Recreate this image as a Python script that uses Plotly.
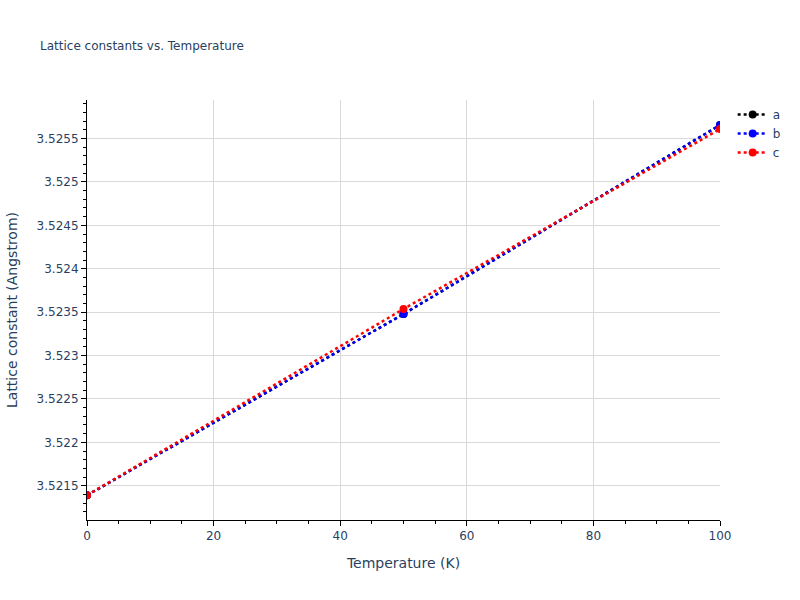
import plotly.graph_objects as go

temperature = [0, 50, 100]
lat_a = [3.52139, 3.523478, 3.525655]
lat_b = [3.52139, 3.523478, 3.525655]
lat_c = [3.52139, 3.523536, 3.525609]

series = [("a", lat_a, "black"), ("b", lat_b, "blue"), ("c", lat_c, "red")]

fig = go.Figure()
for name, vals, col in series:
    fig.add_trace(go.Scatter(
        x=temperature, y=vals, name=name, mode="lines+markers",
        line=dict(color=col, dash="dot", width=2.5),
        marker=dict(color=col, size=8),
    ))

axis_common = dict(
    showline=True, linecolor="black", linewidth=1,
    ticks="outside", tickcolor="black", ticklen=5,
    showgrid=True, gridcolor="#d9d9d9", zeroline=False,
    tickfont=dict(size=12),
    minor=dict(ticks="outside", ticklen=3, tickcolor="black", showgrid=False),
)

fig.update_layout(
    width=800, height=600,
    title=dict(text="Lattice constants vs. Temperature", font=dict(size=12), x=0.05),
    plot_bgcolor="white", paper_bgcolor="white",
    font=dict(family="DejaVu Sans, Verdana, sans-serif", color="#2a3f5f"),
    xaxis=dict(title=dict(text="Temperature (K)", font=dict(size=14)),
               range=[0, 100], dtick=20, minor_dtick=5, **axis_common),
    yaxis=dict(title=dict(text="Lattice constant (Angstrom)", font=dict(size=14)),
               range=[3.521105, 3.525944], dtick=0.0005, minor_dtick=0.0001,
               **axis_common),
    legend=dict(font=dict(size=12)),
    margin=dict(t=100, b=80, l=80, r=80),
)

fig.write_html("out.html", config={"displayModeBar": False},
               post_script="document.body.style.margin='0';")
